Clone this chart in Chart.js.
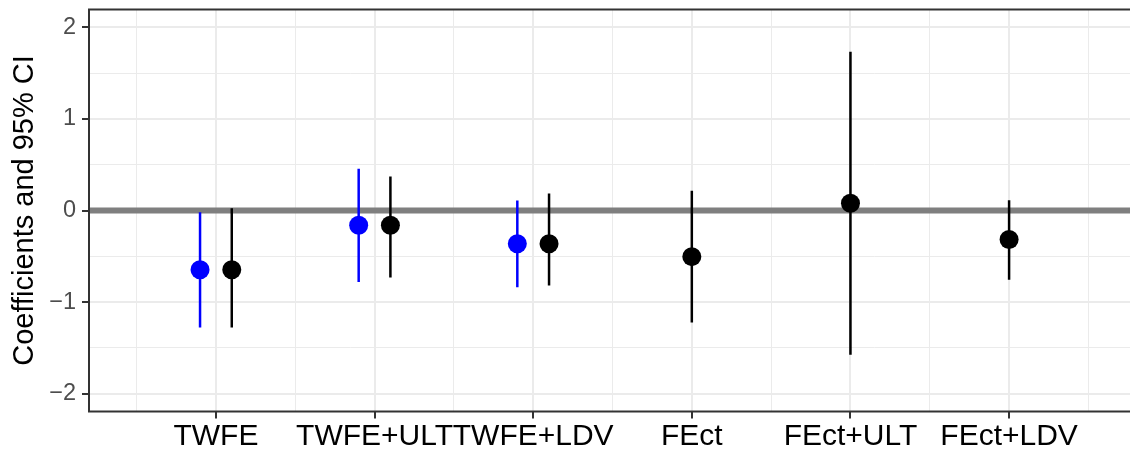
<!DOCTYPE html>
<html>
<head>
<meta charset="utf-8">
<script src="https://cdn.jsdelivr.net/npm/chart.js@4.4.0/dist/chart.umd.min.js"></script>
<style>
  html, body { margin: 0; padding: 0; background: #fff; overflow: hidden; }
  canvas { display: block; }
</style>
</head>
<body>
<canvas id="coefChart" width="1150" height="455"></canvas>
<script>
const categories = ['TWFE', 'TWFE+ULT', 'TWFE+LDV', 'FEct', 'FEct+ULT', 'FEct+LDV'];

// blue estimates only exist for the first three models
const blueEst = [-0.647, -0.162, -0.364];
const blueLow = [-1.277, -0.781, -0.838];
const blueHigh = [-0.018, 0.456, 0.108];

const blackEst = [-0.647, -0.162, -0.364, -0.504, 0.079, -0.317];
const blackLow = [-1.277, -0.731, -0.820, -1.223, -1.575, -0.755];
const blackHigh = [0.025, 0.370, 0.187, 0.216, 1.733, 0.111];

const yTicks = [-2, -1, 0, 1, 2];
const yMinorTicks = [-1.5, -0.5, 0.5, 1.5];

const dodge = 0.1;
const font = 'Liberation Sans, Arial, Helvetica, sans-serif';

// x position of a series inside its category (side by side when both exist)
function xPos(i, side) {
    if (i >= blueEst.length) return i;
    return side === 'blue' ? i - dodge : i + dodge;
}

function points(est, side) {
    return est.map((v, i) => ({ x: xPos(i, side), y: v }));
}

// vertical CI segments, broken up with null gaps
function ciSegments(low, high, side) {
    const out = [];
    low.forEach((lo, i) => {
        const x = xPos(i, side);
        out.push({ x: x, y: lo }, { x: x, y: high[i] }, { x: x, y: null });
    });
    return out;
}

const isMajor = (v) => Math.abs(v - Math.round(v)) < 1e-6;
const fmt = (v) => (v < 0 ? '\u2212' + Math.abs(v) : String(v));

// panel border drawn over everything
const panelBorder = {
    id: 'panelBorder',
    afterDraw(chart) {
        const { ctx, chartArea: a } = chart;
        ctx.save();
        ctx.strokeStyle = '#333333';
        ctx.lineWidth = 2;
        ctx.strokeRect(a.left, a.top, a.right - a.left, a.bottom - a.top);
        ctx.restore();
    }
};

const ctx = document.getElementById('coefChart').getContext('2d');

new Chart(ctx, {
    type: 'scatter',
    data: {
        datasets: [
            {
                data: points(blueEst, 'blue'),
                pointRadius: 9.5,
                pointBackgroundColor: '#0000FF',
                pointBorderWidth: 0,
                order: 0
            },
            {
                data: points(blackEst, 'black'),
                pointRadius: 9.5,
                pointBackgroundColor: '#000000',
                pointBorderWidth: 0,
                order: 0
            },
            {
                data: ciSegments(blueLow, blueHigh, 'blue'),
                showLine: true,
                spanGaps: false,
                borderColor: '#0000FF',
                borderWidth: 2.5,
                pointRadius: 0,
                order: 1
            },
            {
                data: ciSegments(blackLow, blackHigh, 'black'),
                showLine: true,
                spanGaps: false,
                borderColor: '#000000',
                borderWidth: 2.5,
                pointRadius: 0,
                order: 1
            },
            {
                // reference line at zero
                data: [{ x: -0.8, y: 0 }, { x: categories.length - 0.2, y: 0 }],
                showLine: true,
                borderColor: '#7F7F7F',
                borderWidth: 6,
                pointRadius: 0,
                order: 2
            }
        ]
    },
    options: {
        responsive: false,
        animation: false,
        layout: { padding: { top: 5, right: 14, bottom: 0, left: 0 } },
        plugins: {
            legend: { display: false },
            tooltip: { enabled: false }
        },
        scales: {
            x: {
                type: 'linear',
                min: -0.8,
                max: categories.length - 0.2,
                afterBuildTicks: (scale) => {
                    const t = [];
                    for (let v = -0.5; v <= categories.length - 0.5; v += 0.5) t.push({ value: v });
                    scale.ticks = t;
                },
                afterFit: (scale) => {
                    scale.height = 43.5;
                    scale.paddingLeft = 0;
                    scale.paddingRight = 0;
                },
                border: { display: false },
                grid: {
                    color: '#EBEBEB',
                    lineWidth: (c) => (isMajor(c.tick.value) ? 2 : 1),
                    tickLength: 7,
                    tickWidth: 2,
                    tickColor: (c) => (isMajor(c.tick.value) ? '#333333' : 'rgba(0,0,0,0)')
                },
                ticks: {
                    autoSkip: false,
                    maxRotation: 0,
                    minRotation: 0,
                    padding: 0,
                    color: '#000000',
                    font: { family: font, size: 30 },
                    callback: (v) => (isMajor(v) ? categories[Math.round(v)] : '')
                }
            },
            y: {
                type: 'linear',
                min: -2.195,
                max: 2.195,
                afterBuildTicks: (scale) => {
                    scale.ticks = yTicks.concat(yMinorTicks).sort((a, b) => a - b).map((v) => ({ value: v }));
                },
                afterFit: (scale) => {
                    scale.width = 89;
                    scale.paddingTop = 0;
                    scale.paddingBottom = 0;
                },
                border: { display: false },
                grid: {
                    color: '#EBEBEB',
                    lineWidth: (c) => (isMajor(c.tick.value) ? 2 : 1),
                    tickLength: 7,
                    tickWidth: 2,
                    tickColor: (c) => (isMajor(c.tick.value) ? '#333333' : 'rgba(0,0,0,0)')
                },
                ticks: {
                    autoSkip: false,
                    padding: 6,
                    color: '#4D4D4D',
                    font: { family: font, size: 23.5 },
                    callback: (v) => (isMajor(v) ? fmt(v) : '')
                },
                title: {
                    display: true,
                    text: 'Coefficients and 95% CI',
                    color: '#000000',
                    font: { family: font, size: 29 },
                    padding: { top: 8, bottom: 0 }
                }
            }
        }
    },
    plugins: [panelBorder]
});
</script>
</body>
</html>
